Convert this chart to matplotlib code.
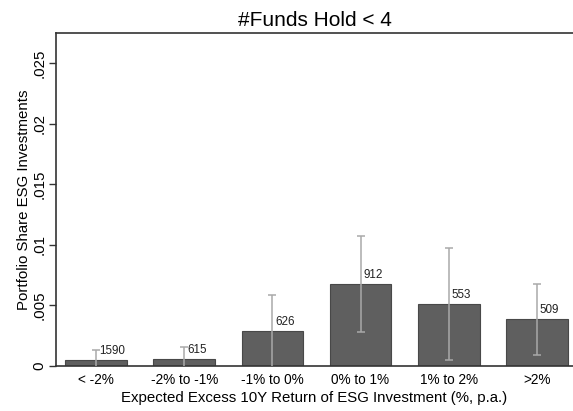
import numpy as np
import matplotlib.pyplot as plt

plt.rcParams['font.family'] = ['Liberation Sans', 'DejaVu Sans']

# Kategorien und Werte
categories = ['< -2%', '-2% to -1%', '-1% to 0%', '0% to 1%', '1% to 2%', '>2%']
share = [0.00045, 0.00055, 0.00287, 0.00675, 0.0051, 0.00383]
ci_low = [-0.0003, -0.0004, -0.0002, 0.00278, 0.00045, 0.00086]
ci_high = [0.00127, 0.00155, 0.00584, 0.01074, 0.0097, 0.00678]
counts = [1590, 615, 626, 912, 553, 509]

x = np.arange(1, len(categories) + 1)
share = np.array(share)
err = [share - np.array(ci_low), np.array(ci_high) - share]

fig = plt.figure(figsize=(5.73, 4.11), dpi=100)
ax = fig.add_axes([0.0977, 0.11, 0.9023, 0.81])

ax.bar(x, share, width=0.7, color='#5f5f5f', edgecolor='#484848', linewidth=0.8, zorder=2)
ax.errorbar(x, share, yerr=err, fmt='none', ecolor='#a9a9a9', elinewidth=1.1,
            capsize=2.6, capthick=1.1, zorder=3)

for xi, h, n in zip(x, share, counts):
    ax.annotate(str(n), (xi, h), xytext=(2.2, 6.8), textcoords='offset points',
                ha='left', va='center', fontsize=8.4, color='#222222', zorder=4)

ax.set_xlim(0.545, 6.41)
ax.set_ylim(0, 0.0275)
ax.set_xticks(x)
ax.set_xticklabels(categories, fontsize=9.8)
ax.set_yticks([0, 0.005, 0.01, 0.015, 0.02, 0.025])
ax.set_yticklabels(['0', '.005', '.01', '.015', '.02', '.025'], rotation=90,
                   va='center', fontsize=10.8)
ax.tick_params(axis='x', length=0, pad=5)
ax.tick_params(axis='y', length=5, width=1, color='#333333', pad=2)

ax.spines['right'].set_visible(False)
for s in ['left', 'top', 'bottom']:
    ax.spines[s].set_color('#333333')
    ax.spines[s].set_linewidth(1.2)

ax.set_xlabel('Expected Excess 10Y Return of ESG Investment (%, p.a.)', fontsize=10.8, labelpad=3)
ax.set_ylabel('Portfolio Share ESG Investments', fontsize=10.8, labelpad=1)
ax.set_title('#Funds Hold < 4', fontsize=15, pad=5)

fig.savefig('out.png', dpi=100)
